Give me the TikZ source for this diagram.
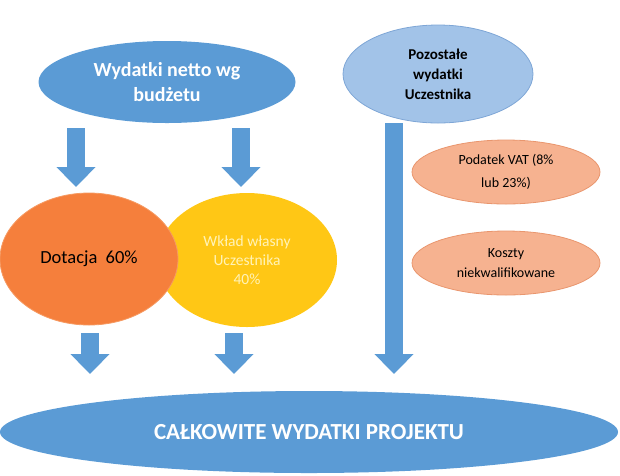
\documentclass[tikz,border=0pt]{standalone}
\usepackage{fontspec}
\setmainfont{Carlito}
\usetikzlibrary{shapes.geometric,arrows.meta}
\definecolor{mblue}{HTML}{5B9BD5}
\definecolor{lblue}{HTML}{A2C3E8}
\definecolor{lbluedraw}{HTML}{7EA6D6}
\definecolor{morange}{HTML}{F57F3C}
\definecolor{orangedraw}{HTML}{F59A62}
\definecolor{myellow}{HTML}{FFC715}
\definecolor{ytext}{HTML}{FFF3B8}
\definecolor{salmon}{HTML}{F6B290}
\definecolor{salmondraw}{HTML}{E9966E}
\tikzset{
  ell/.style={ellipse, inner sep=0pt, outer sep=0pt, align=center},
  blockarrow/.style={draw=mblue, line width=18pt, -{Triangle[width=38pt,length=20pt]}},
}
\begin{document}
\begin{tikzpicture}[x=1pt,y=-1pt]
\useasboundingbox (0,0) rectangle (620,475);
% top ellipses
\node[ell, fill=mblue, minimum width=257pt, minimum height=82pt,
      text=white, font=\fontsize{20}{25}\selectfont\bfseries] (netto) at (167,82)
      {Wydatki netto wg\\budżetu};
\node[ell, fill=lblue, draw=lbluedraw, line width=0.8pt, minimum width=190pt, minimum height=98pt,
      font=\fontsize{15}{20}\selectfont\bfseries] (pozo) at (438,74)
      {Pozostałe\\wydatki\\Uczestnika};
% middle ellipses
\node[ell, fill=myellow, minimum width=180pt, minimum height=134pt,
      text=ytext, font=\fontsize{15.5}{19}\selectfont] (wklad) at (247,260)
      {Wkład własny\\Uczestnika\\40\%};
\node[ell, fill=morange, draw=orangedraw, line width=0.8pt, minimum width=178pt, minimum height=132pt,
      font=\fontsize{18.5}{22}\selectfont] (dot) at (89,259)
      {Dotacja~~60\%};
\node[ell, fill=salmon, draw=salmondraw, line width=0.8pt, minimum width=188pt, minimum height=64pt,
      font=\fontsize{14}{23}\selectfont] (vat) at (506,172)
      {Podatek VAT (8\%\\lub 23\%)};
\node[ell, fill=salmon, draw=salmondraw, line width=0.8pt, minimum width=188pt, minimum height=64pt,
      font=\fontsize{14}{20}\selectfont] (koszty) at (506,263)
      {Koszty\\niekwalifikowane};
% bottom ellipse
\node[ell, fill=mblue, minimum width=618pt, minimum height=82pt,
      text=white, font=\fontsize{23}{27}\selectfont\bfseries] (calk) at (309,432)
      {CAŁKOWITE WYDATKI PROJEKTU};
% arrow coordinates
\coordinate (a1s) at (76,128);  \coordinate (a1e) at (76,187);
\coordinate (a2s) at (241,128); \coordinate (a2e) at (241,187);
\coordinate (a3s) at (90,333);  \coordinate (a3e) at (90,374);
\coordinate (a4s) at (234,333); \coordinate (a4e) at (234,374);
\coordinate (a5s) at (394,123); \coordinate (a5e) at (394,374);
\draw[blockarrow] (a1s) -- (a1e);
\draw[blockarrow] (a2s) -- (a2e);
\draw[blockarrow] (a3s) -- (a3e);
\draw[blockarrow] (a4s) -- (a4e);
\draw[blockarrow] (a5s) -- (a5e);
\end{tikzpicture}
\end{document}
